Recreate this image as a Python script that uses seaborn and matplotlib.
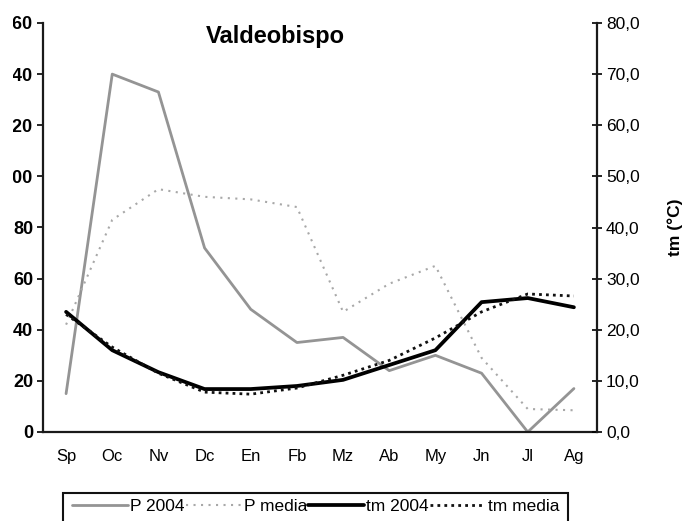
import numpy as np
import pandas as pd
import matplotlib
matplotlib.use("Agg")
import matplotlib.pyplot as plt
from matplotlib.lines import Line2D
from matplotlib.patches import Rectangle
from matplotlib.transforms import Bbox, TransformedBbox
import seaborn as sns

# Monthly series: precipitation (mm, left axis) and mean temperature (ºC, right axis)
months = ["Sp", "Oc", "Nv", "Dc", "En", "Fb", "Mz", "Ab", "My", "Jn", "Jl", "Ag"]
p_2004 = [15, 140, 133, 72, 48, 35, 37, 24, 30, 23, 0, 17]
p_media = [42, 83, 95, 92, 91, 88, 47, 58, 65, 29, 9, 8.5]
tm_2004 = [23.5, 16, 11.7, 8.4, 8.4, 9, 10.2, 13.1, 16, 25.4, 26.2, 24.4]
tm_media = [23, 16.6, 11.5, 7.8, 7.4, 8.6, 11.1, 14, 18.4, 23.5, 27, 26.6]

p_ticks = [0, 20, 40, 60, 80, 100, 120, 140, 160]
tm_ticks = [0, 10, 20, 30, 40, 50, 60, 70, 80]
tm_tick_labels = ["0,0", "10,0", "20,0", "30,0", "40,0", "50,0", "60,0", "70,0", "80,0"]

title = "Valdeobispo"
tm_label = "tm (°C)"
legend_labels = ["P 2004", "P media", "tm 2004", "tm media"]

sns.set_style("white")
plt.rcParams["font.family"] = ["Liberation Sans", "DejaVu Sans"]
plt.rcParams["text.color"] = "black"
plt.rcParams["xtick.color"] = "black"
plt.rcParams["ytick.color"] = "black"
plt.rcParams["axes.labelcolor"] = "black"

df = pd.DataFrame({
    "pos": np.arange(len(months)),
    "P 2004": p_2004,
    "P media": p_media,
    "tm 2004": tm_2004,
    "tm media": tm_media,
})

W, H = 691, 521
fig = plt.figure(figsize=(W / 100, H / 100), dpi=100)
ax = fig.add_axes([43 / W, (H - 432) / H, (597 - 43) / W, (432 - 23) / H])
ax2 = ax.twinx()

styles = {
    "P 2004": dict(color="#949494", lw=2.0, ls="-"),
    "P media": dict(color="#a8a8a8", lw=1.5, ls=(0, (1.0, 2.6))),
    "tm 2004": dict(color="#000000", lw=2.7, ls="-"),
    "tm media": dict(color="#111111", lw=2.0, ls=(0, (1.0, 1.5))),
}

for name in ["P 2004", "P media"]:
    st = styles[name]
    sns.lineplot(data=df, x="pos", y=name, ax=ax, color=st["color"],
                 linewidth=st["lw"], linestyle=st["ls"], legend=False)
for name in ["tm 2004", "tm media"]:
    st = styles[name]
    sns.lineplot(data=df, x="pos", y=name, ax=ax2, color=st["color"],
                 linewidth=st["lw"], linestyle=st["ls"], legend=False)

# Category axis: labels at centres, tick marks on the boundaries
ax.set_xlim(-0.5, len(months) - 0.5)
ax.set_xticks(np.arange(len(months)))
ax.set_xticklabels(months, fontsize=12)
ax.set_xticks(np.arange(len(months) + 1) - 0.5, minor=True)
ax.tick_params(axis="x", which="major", length=0, pad=12)
ax.tick_params(axis="x", which="minor", length=6, width=1.2, direction="inout")
ax.set_xlabel("")

# Left axis (precipitation)
ax.set_ylim(0, 160)
ax.set_yticks(p_ticks)
ax.set_yticklabels([str(v) for v in p_ticks], fontsize=13, fontweight="bold")
ax.tick_params(axis="y", which="major", direction="out", length=4, width=1.2, pad=3,
               left=True)
ax.set_ylabel("")
# the page edge trims the left of the precipitation labels
trim = TransformedBbox(Bbox([[13 / W, 0], [1, 1]]), fig.transFigure)
for lbl in ax.get_yticklabels():
    lbl.set_clip_on(True)
    lbl.set_clip_box(trim)

# Right axis (temperature)
ax2.set_ylim(0, 80)
ax2.set_yticks(tm_ticks)
ax2.set_yticklabels(tm_tick_labels, fontsize=12.5)
ax2.tick_params(axis="y", direction="inout", length=7, width=1.2, pad=3, right=True)
ax2.set_ylabel(tm_label, fontsize=12.5, fontweight="bold", labelpad=20)

for a in (ax, ax2):
    a.spines["top"].set_visible(False)
    for s in ("left", "right", "bottom"):
        a.spines[s].set_color("#1a1a1a")
        a.spines[s].set_linewidth(1.6)
ax.spines["right"].set_visible(False)
ax2.spines["left"].set_visible(False)
ax2.spines["bottom"].set_visible(False)

ax.text(0.42, 0.966, title, transform=ax.transAxes, ha="center", va="center",
        fontsize=17, fontweight="bold")

# Legend: one row, boxed; the box runs past the bottom of the page
handles = [Line2D([], [], color=styles[n]["color"], lw=styles[n]["lw"],
                  ls=styles[n]["ls"]) for n in legend_labels]
leg = fig.legend(handles, legend_labels, loc="upper left",
                 bbox_to_anchor=(66 / W, (H - 493) / H), ncol=4, fontsize=12.5,
                 frameon=False, handlelength=3.2,
                 handletextpad=0.15, columnspacing=0.05, borderpad=0.35,
                 borderaxespad=0)
fig.add_artist(Rectangle((63 / W, -0.05), (568 - 63) / W, (H - 493) / H + 0.05,
                         transform=fig.transFigure, fill=False,
                         edgecolor="#111111", linewidth=1.5))

fig.savefig("out.png", dpi=100)
